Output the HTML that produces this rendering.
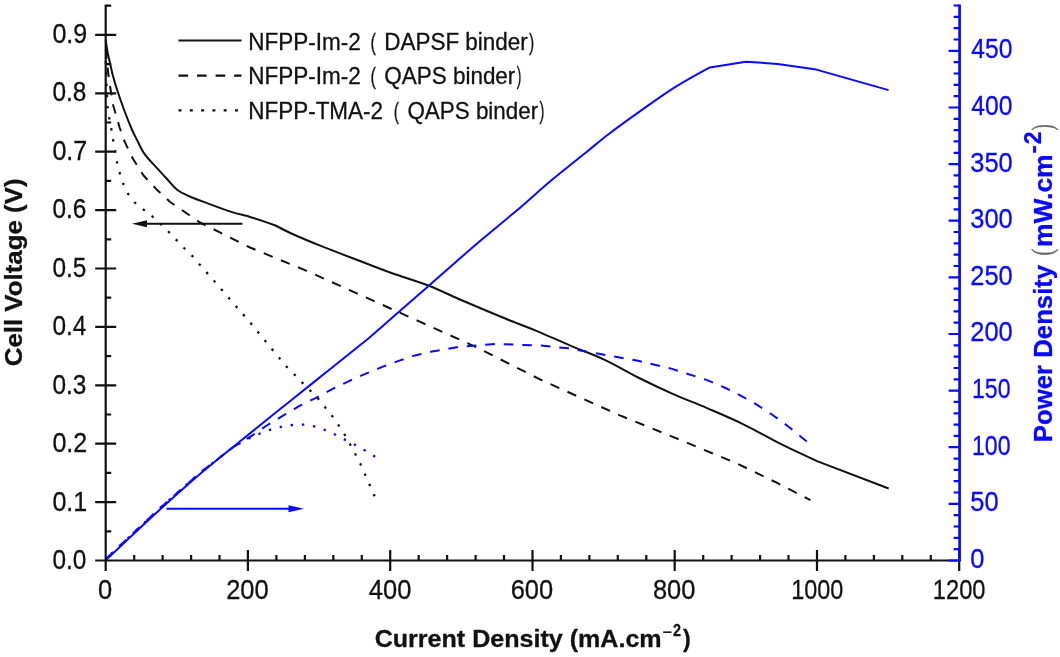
<!DOCTYPE html>
<html lang="en">
<head>
<meta charset="utf-8">
<title>Polarization and power density curves</title>
<style>
html,body{margin:0;padding:0;background:#fff;}
body{width:1060px;height:657px;overflow:hidden;}
svg{display:block;filter:blur(0.45px);}
text{font-family:"Liberation Sans", Arial, Helvetica, sans-serif;stroke-width:0.3px;stroke-linejoin:round;}
text.sf{font-family:"Liberation Serif", "Times New Roman", serif;}
.b{font-weight:bold;}
</style>
</head>
<body>
<svg width="1060" height="657" viewBox="0 0 1060 657">
<rect width="1060" height="657" fill="#fff"/>

<g fill="none" stroke-width="2" stroke-linejoin="round">
<path stroke="#111" d="M105.7,40.0C105.7,40.0 106.8,48.0 107.5,52.0C108.2,55.7 109.2,59.3 110.0,63.0C111.0,67.3 111.8,71.7 113.0,76.0C114.5,81.5 116.1,86.9 117.9,92.3C120.0,98.6 122.2,104.8 124.5,111.0C126.9,117.4 129.4,123.7 132.1,130.0C133.8,133.9 135.8,137.6 137.7,141.3C139.8,145.4 141.6,149.8 144.3,153.6C147.9,158.7 152.4,163.1 156.6,167.7C160.3,171.9 164.1,175.9 167.9,180.0C171.0,183.4 173.8,187.2 177.4,190.0C180.8,192.6 184.8,194.3 188.7,196.0C194.3,198.5 200.0,200.5 205.7,202.6C214.5,205.9 223.2,209.2 232.1,212.1C238.3,214.1 244.7,215.3 250.9,217.2C259.2,219.8 275.5,225.5 275.5,225.5C275.5,225.5 286.7,231.4 292.5,234.0C301.8,238.2 311.3,242.1 320.8,245.9C334.9,251.5 349.1,256.9 363.2,262.3C372.6,265.9 382.0,269.6 391.5,273.0C403.7,277.3 416.2,280.8 428.3,285.5C439.8,290.0 450.9,295.6 462.3,300.5C476.4,306.5 490.5,312.5 504.7,318.3C516.4,323.1 528.3,327.4 540.0,332.3C550.8,336.8 561.3,341.8 572.1,346.4C582.7,350.9 593.7,354.7 604.2,359.6C615.8,365.0 626.7,371.8 638.1,377.5C649.3,383.1 660.6,388.5 672.1,393.6C683.3,398.6 694.8,402.9 706.0,407.7C718.5,413.1 731.1,418.3 743.4,424.3C756.2,430.5 768.4,437.8 781.1,444.2C792.9,450.1 817.0,461.1 817.0,461.1C817.0,461.1 888.7,488.5 888.7,488.5"/>
<polyline stroke="#111" stroke-dasharray="9.6 8.95" stroke-dashoffset="17.42" points="105.7,48.0 107.0,62.0 109.0,80.0 113.2,105.5 119.8,128.0 123.6,139.4 132.1,157.4 143.4,175.3 156.6,189.4 169.8,201.7 184.9,212.1 200.0,222.5 218.9,231.9 235.8,240.4 250.0,247.5 306.6,270.8 363.2,296.2 419.8,321.7 476.4,347.2 540.0,379.4 619.2,415.1 674.7,437.6 738.1,464.0 777.7,483.2 810.4,500.2"/>
<polyline stroke="#111" stroke-width="2.3" stroke-dasharray="2.4 8.8" stroke-dashoffset="9.93" points="105.7,60.0 106.5,85.0 107.5,106.4 109.4,118.7 111.3,129.0 113.2,140.4 117.0,162.0 119.8,173.4 123.6,184.7 128.3,194.2 134.9,202.6 144.3,210.2 152.8,216.8 167.9,231.0 175.5,239.0 184.0,248.0 190.6,254.0 250.0,322.3 285.8,366.0 293.8,373.8 301.9,382.3 309.4,389.8 317.4,397.7 324.2,406.2 331.7,415.3 338.1,424.7 344.3,434.0 350.0,444.3 355.3,454.0 360.4,464.0 365.0,474.4 369.6,484.7 374.7,496.3"/>
<path stroke="#0808ff" d="M105.7,560.3C105.7,560.3 141.7,526.2 160.0,509.5C173.2,497.5 186.4,485.6 200.0,474.0C212.3,463.5 225.1,453.4 237.7,443.2C250.3,433.0 262.9,422.9 275.5,412.8C288.1,402.7 300.6,392.7 313.2,382.6C331.8,367.7 369.0,338.0 369.0,338.0C369.0,338.0 408.5,303.5 428.3,286.2C444.8,271.8 461.1,257.2 477.7,243.0C490.1,232.4 503.0,222.2 515.5,211.6C528.2,200.8 540.4,189.5 553.2,178.8C564.9,169.0 577.1,159.6 589.0,150.0C595.3,144.9 601.4,139.6 607.9,134.7C618.4,126.7 629.1,119.0 639.9,111.4C651.5,103.2 663.0,94.8 675.1,87.2C686.4,80.1 709.8,67.4 709.8,67.4C709.8,67.4 746.0,61.7 746.0,61.7C746.0,61.7 777.7,63.9 777.7,63.9C777.7,63.9 816.4,69.6 816.4,69.6C816.4,69.6 888.6,90.1 888.6,90.1"/>
<polyline stroke="#0808ff" stroke-dasharray="9.6 8.95" stroke-dashoffset="17.49" points="105.0,559.7 159.2,508.8 199.3,473.4 234.0,446.6 250.9,436.4 266.0,426.0 283.0,415.7 299.0,406.2 315.1,398.3 332.1,389.2 349.0,381.1 366.0,373.6 383.0,366.6 400.0,360.4 415.0,355.4 432.1,351.6 460.4,346.6 496.2,344.0 540.0,345.5 568.3,348.3 600.4,354.0 638.1,360.8 672.1,368.9 707.9,380.4 724.5,387.5 741.1,395.8 757.2,404.9 772.6,415.0 787.7,426.0 806.8,441.5"/>
<polyline stroke="#0808ff" stroke-width="2.3" stroke-dasharray="2.4 8.8" stroke-dashoffset="2.44" points="105.0,559.7 159.2,508.8 199.3,473.4 234.9,445.8 250.9,437.4 262.3,432.6 272.6,428.9 283.0,426.4 294.3,424.7 304.7,424.7 315.5,426.6 326.0,430.4 335.4,434.8 344.9,439.7 355.5,445.0 364.7,450.3 375.2,456.7"/>
</g>
<g stroke="#111" stroke-width="2.2" fill="none">
<path d="M105.7,4.7 V571.0"/>
<path d="M95.2,560.5 H959.6"/>
<path d="M105.7,531.3h5.5 M95.2,502.1H116.2 M105.7,472.9h5.5 M95.2,443.7H116.2 M105.7,414.5h5.5 M95.2,385.3H116.2 M105.7,356.1h5.5 M95.2,326.9H116.2 M105.7,297.7h5.5 M95.2,268.5H116.2 M105.7,239.3h5.5 M95.2,210.1H116.2 M105.7,180.9h5.5 M95.2,151.7H116.2 M105.7,122.5h5.5 M95.2,93.3H116.2 M105.7,64.1h5.5 M95.2,34.9H116.2 M105.7,5.7h5.5"/>
<path d="M134.2,560.5v-5.5 M162.6,560.5v-5.5 M191.1,560.5v-5.5 M219.5,560.5v-5.5 M247.9,550.0V571.0 M276.4,560.5v-5.5 M304.9,560.5v-5.5 M333.3,560.5v-5.5 M361.8,560.5v-5.5 M390.2,550.0V571.0 M418.7,560.5v-5.5 M447.1,560.5v-5.5 M475.6,560.5v-5.5 M504.0,560.5v-5.5 M532.5,550.0V571.0 M560.9,560.5v-5.5 M589.4,560.5v-5.5 M617.8,560.5v-5.5 M646.3,560.5v-5.5 M674.7,550.0V571.0 M703.2,560.5v-5.5 M731.6,560.5v-5.5 M760.1,560.5v-5.5 M788.5,560.5v-5.5 M817.0,550.0V571.0 M845.4,560.5v-5.5 M873.9,560.5v-5.5 M902.3,560.5v-5.5 M930.8,560.5v-5.5 M959.2,550.0V571.0"/>
</g>
<g stroke="#0808ff" stroke-width="2.2" fill="none">
<path stroke-width="2.7" d="M959.6,4.4V561.6"/>
<path d="M959.6,560.5h-11 M959.6,549.2h-6 M959.6,537.8h-6 M959.6,526.5h-6 M959.6,515.2h-6 M959.6,503.9h-11 M959.6,492.5h-6 M959.6,481.2h-6 M959.6,469.9h-6 M959.6,458.6h-6 M959.6,447.2h-11 M959.6,435.9h-6 M959.6,424.6h-6 M959.6,413.3h-6 M959.6,401.9h-6 M959.6,390.6h-11 M959.6,379.3h-6 M959.6,368.0h-6 M959.6,356.6h-6 M959.6,345.3h-6 M959.6,334.0h-11 M959.6,322.7h-6 M959.6,311.3h-6 M959.6,300.0h-6 M959.6,288.7h-6 M959.6,277.3h-11 M959.6,266.0h-6 M959.6,254.7h-6 M959.6,243.4h-6 M959.6,232.0h-6 M959.6,220.7h-11 M959.6,209.4h-6 M959.6,198.1h-6 M959.6,186.7h-6 M959.6,175.4h-6 M959.6,164.1h-11 M959.6,152.8h-6 M959.6,141.4h-6 M959.6,130.1h-6 M959.6,118.8h-6 M959.6,107.5h-11 M959.6,96.1h-6 M959.6,84.8h-6 M959.6,73.5h-6 M959.6,62.2h-6 M959.6,50.8h-11 M959.6,39.5h-6 M959.6,28.2h-6 M959.6,16.9h-6 M959.6,5.5h-6"/>
</g>
<g stroke="#111" stroke-width="2" fill="#111"><path d="M242.5,223.8H140" fill="none"/><path d="M132,223.8l15,-3.5v7z" stroke="none"/></g>
<g stroke="#0808ff" stroke-width="2" fill="#0808ff"><path d="M166.5,508.7H296" fill="none"/><path d="M304,508.7l-15.5,-3.5v7z" stroke="none"/></g>
<g stroke="#111" stroke-width="2.2" fill="none"><path d="M178.5,40.5H241.5"/><path d="M178.5,75.6H241.5" stroke-dasharray="9.6 8.95"/><path d="M178.5,110.3H241.5" stroke-dasharray="3 8.3"/></g>
<text font-size="23.3" fill="#111" stroke="#111" transform="translate(248.23,49.7) scale(0.9675,1)">NFPP-Im-2</text>
<text font-size="23.3" fill="#111" stroke="#111" transform="translate(370.60,49.7) scale(0.7000,1)">(</text>
<text font-size="23.3" fill="#111" stroke="#111" transform="translate(384.24,49.7) scale(0.9639,1)">DAPSF binder</text>
<text font-size="23.3" fill="#111" stroke="#111" transform="translate(529.00,49.7) scale(0.6714,1)">)</text>
<text font-size="23.3" fill="#111" stroke="#111" transform="translate(248.23,84.2) scale(0.9675,1)">NFPP-Im-2</text>
<text font-size="23.3" fill="#111" stroke="#111" transform="translate(370.60,84.2) scale(0.7000,1)">(</text>
<text font-size="23.3" fill="#111" stroke="#111" transform="translate(384.23,84.2) scale(0.9651,1)">QAPS binder</text>
<text font-size="23.3" fill="#111" stroke="#111" transform="translate(516.80,84.2) scale(0.6000,1)">)</text>
<text font-size="23.3" fill="#111" stroke="#111" transform="translate(248.24,118.8) scale(0.9650,1)">NFPP-TMA-2</text>
<text font-size="23.3" fill="#111" stroke="#111" transform="translate(393.83,118.8) scale(0.6714,1)">(</text>
<text font-size="23.3" fill="#111" stroke="#111" transform="translate(407.44,118.8) scale(0.9614,1)">QAPS binder</text>
<text font-size="23.3" fill="#111" stroke="#111" transform="translate(539.60,118.8) scale(0.6286,1)">)</text>
<text font-size="27.4" fill="#111" stroke="#111" transform="translate(52.41,569.1) scale(0.8903,1)">0.0</text>
<text font-size="27.4" fill="#111" stroke="#111" transform="translate(52.38,510.6) scale(0.9151,1)">0.1</text>
<text font-size="27.4" fill="#111" stroke="#111" transform="translate(52.38,452.0) scale(0.9151,1)">0.2</text>
<text font-size="27.4" fill="#111" stroke="#111" transform="translate(52.41,393.5) scale(0.8903,1)">0.3</text>
<text font-size="27.4" fill="#111" stroke="#111" transform="translate(52.41,335.0) scale(0.8903,1)">0.4</text>
<text font-size="27.4" fill="#111" stroke="#111" transform="translate(52.41,276.5) scale(0.8903,1)">0.5</text>
<text font-size="27.4" fill="#111" stroke="#111" transform="translate(52.41,218.0) scale(0.8903,1)">0.6</text>
<text font-size="27.4" fill="#111" stroke="#111" transform="translate(52.38,159.5) scale(0.9151,1)">0.7</text>
<text font-size="27.4" fill="#111" stroke="#111" transform="translate(52.41,101.0) scale(0.8903,1)">0.8</text>
<text font-size="27.4" fill="#111" stroke="#111" transform="translate(52.38,42.5) scale(0.9151,1)">0.9</text>
<text font-size="27.4" fill="#111" stroke="#111" transform="translate(98.06,599.2) scale(0.9300,1)">0</text>
<text font-size="27.4" fill="#111" stroke="#111" transform="translate(226.14,599.2) scale(0.9300,1)">200</text>
<text font-size="27.4" fill="#111" stroke="#111" transform="translate(368.86,599.2) scale(0.9300,1)">400</text>
<text font-size="27.4" fill="#111" stroke="#111" transform="translate(510.64,599.2) scale(0.9300,1)">600</text>
<text font-size="27.4" fill="#111" stroke="#111" transform="translate(652.89,599.2) scale(0.9300,1)">800</text>
<text font-size="27.4" fill="#111" stroke="#111" transform="translate(791.29,599.2) scale(0.8552,1)">1000</text>
<text font-size="27.4" fill="#111" stroke="#111" transform="translate(932.87,599.2) scale(0.8637,1)">1200</text>
<text font-size="27.4" fill="#0808ff" stroke="#0808ff" transform="translate(970.27,567.9) scale(0.9300,1)">0</text>
<text font-size="27.4" fill="#0808ff" stroke="#0808ff" transform="translate(970.27,511.3) scale(0.9300,1)">50</text>
<text font-size="27.4" fill="#0808ff" stroke="#0808ff" transform="translate(971.91,454.6) scale(0.8443,1)">100</text>
<text font-size="27.4" fill="#0808ff" stroke="#0808ff" transform="translate(971.91,398.0) scale(0.8443,1)">150</text>
<text font-size="27.4" fill="#0808ff" stroke="#0808ff" transform="translate(970.27,341.4) scale(0.9300,1)">200</text>
<text font-size="27.4" fill="#0808ff" stroke="#0808ff" transform="translate(970.27,284.7) scale(0.9300,1)">250</text>
<text font-size="27.4" fill="#0808ff" stroke="#0808ff" transform="translate(970.27,228.1) scale(0.9300,1)">300</text>
<text font-size="27.4" fill="#0808ff" stroke="#0808ff" transform="translate(970.27,171.5) scale(0.9300,1)">350</text>
<text font-size="27.4" fill="#0808ff" stroke="#0808ff" transform="translate(971.30,114.9) scale(0.9000,1)">400</text>
<text font-size="27.4" fill="#0808ff" stroke="#0808ff" transform="translate(971.30,58.2) scale(0.9000,1)">450</text>
<text class="b" font-size="24.6" fill="#111" stroke="#111" transform="translate(374.68,647.4) scale(1.0198,1)">Current Density (mA.cm</text>
<text font-size="17" fill="#111" stroke="#111" transform="translate(662.40,638.0) scale(0.9600,1)">−</text>
<text class="b" font-size="15.8" fill="#111" stroke="#111" transform="translate(673.00,636.3) scale(0.9111,1)">2</text>
<text class="b" font-size="24.6" fill="#111" stroke="#111" transform="translate(683.00,647.4) scale(0.9429,1)">)</text>
<text class="b" font-size="23.8" fill="#111" stroke="#111" transform="translate(21.6,366.30) rotate(-90) scale(1.0876,1)">Cell Voltage (V)</text>
<text class="b" font-size="25" fill="#0808ff" stroke="#0808ff" transform="translate(1052.0,442.13) rotate(-90) scale(1.0299,1)">Power Density</text>
<text class="sf" font-size="29" fill="#666" stroke="#666" transform="translate(1052.3,255.65) rotate(-90) scale(0.7500,1)">(</text>
<text class="b" font-size="25" fill="#0808ff" stroke="#0808ff" transform="translate(1052.0,247.06) rotate(-90) scale(1.0598,1)">mW.cm</text>
<text class="b" font-size="23.5" fill="#0808ff" stroke="#0808ff" transform="translate(1040.6,153.60) rotate(-90) scale(1.0571,1)">-</text>
<text class="b" font-size="23.5" fill="#0808ff" stroke="#0808ff" transform="translate(1040.6,144.20) rotate(-90) scale(0.9769,1)">2</text>
<text class="sf" font-size="29" fill="#666" stroke="#666" transform="translate(1052.3,130.60) rotate(-90) scale(0.6556,1)">)</text>
</svg>
</body>
</html>
